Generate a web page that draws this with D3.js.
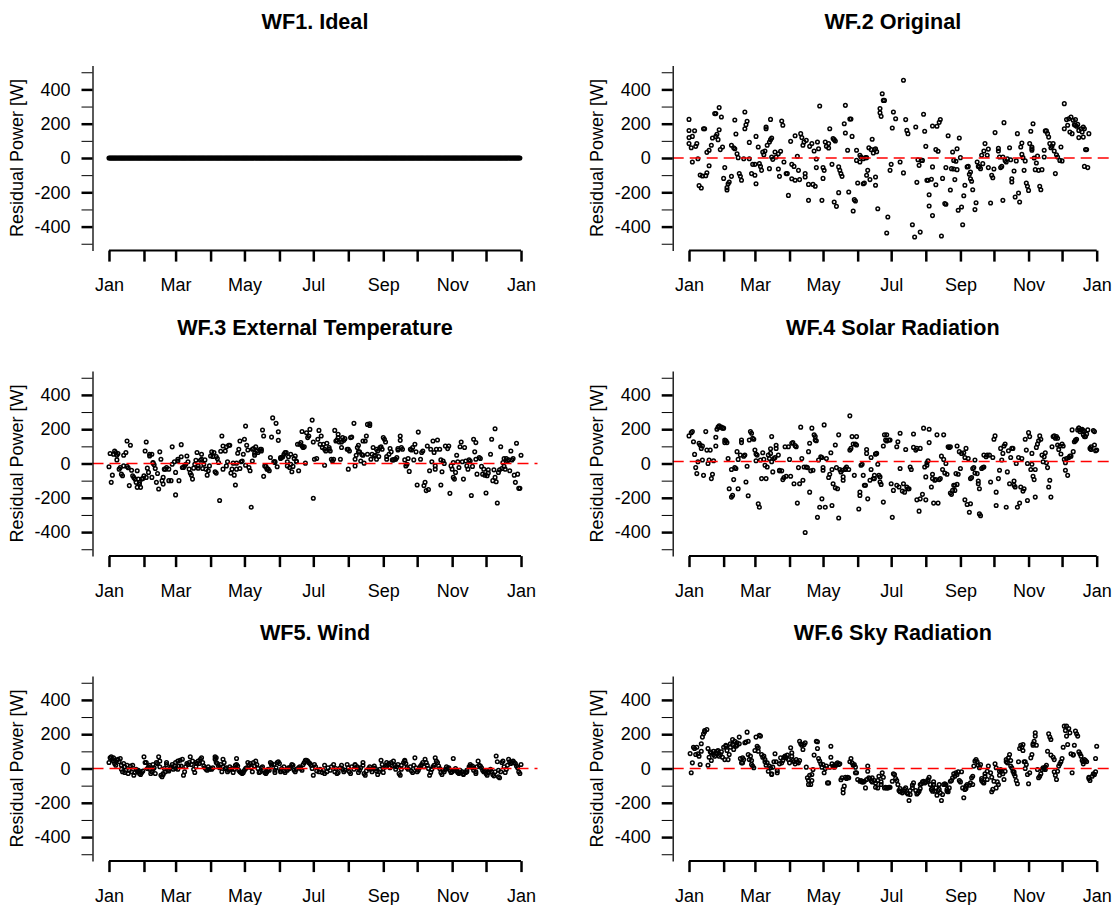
<!DOCTYPE html>
<html>
<head>
<meta charset="utf-8">
<script src="https://cdn.jsdelivr.net/npm/d3@7"></script>
<style>
  html, body { margin: 0; padding: 0; background: #fff; }
  svg { display: block; font-family: "Liberation Sans", Arial, Helvetica, sans-serif; }
</style>
</head>
<body>
<svg id="chart" width="1114" height="905"></svg>
<script>
// titles in reading order (left to right, top to bottom)
const titles = ["WF1. Ideal", "WF.2 Original", "WF.3 External Temperature",
                "WF.4 Solar Radiation", "WF5. Wind", "WF.6 Sky Radiation"];
const yLabel = "Residual Power [W]";
const yTickValues = [-500, -400, -300, -200, -100, 0, 100, 200, 300, 400, 500];
const yLabelled = [-400, -200, 0, 200, 400];
const monthLabels = ["Jan", "Mar", "May", "Jul", "Sep", "Nov", "Jan"];
// level of the red dashed line in each panel [W] (none on the ideal case)
const refLevels = [null, 0, 0, 12, 0, 0];

// WF1: one residual per day, all exactly zero
const wf1 = [
0,0,0,0,0,0,0,0,0,0,0,0,0,0,0,0,0,0,0,0,0,0,0,0,0,0,0,0,0,0,0,0,0,0,0,0,0,0,0,0,0,0,0,0,0,0,0,0,0,0,0,0,0,0,0,0,0,0,0,0,0,0,0,0,0,0,0,0,0,0,0,0,0,
0,0,0,0,0,0,0,0,0,0,0,0,0,0,0,0,0,0,0,0,0,0,0,0,0,0,0,0,0,0,0,0,0,0,0,0,0,0,0,0,0,0,0,0,0,0,0,0,0,0,0,0,0,0,0,0,0,0,0,0,0,0,0,0,0,0,0,0,0,0,0,0,0,
0,0,0,0,0,0,0,0,0,0,0,0,0,0,0,0,0,0,0,0,0,0,0,0,0,0,0,0,0,0,0,0,0,0,0,0,0,0,0,0,0,0,0,0,0,0,0,0,0,0,0,0,0,0,0,0,0,0,0,0,0,0,0,0,0,0,0,0,0,0,0,0,0,
0,0,0,0,0,0,0,0,0,0,0,0,0,0,0,0,0,0,0,0,0,0,0,0,0,0,0,0,0,0,0,0,0,0,0,0,0,0,0,0,0,0,0,0,0,0,0,0,0,0,0,0,0,0,0,0,0,0,0,0,0,0,0,0,0,0,0,0,0,0,0,0,0,
0,0,0,0,0,0,0,0,0,0,0,0,0,0,0,0,0,0,0,0,0,0,0,0,0,0,0,0,0,0,0,0,0,0,0,0,0,0,0,0,0,0,0,0,0,0,0,0,0,0,0,0,0,0,0,0,0,0,0,0,0,0,0,0,0,0,0,0,0,0,0,0,0
];

// the other panels: [day of year, residual W]
const wf2 = [
[0,225],[0,160],[0,84],[0,119],[2,60],[3,126],[5,159],[6,68],[7,84],[8,-4],[3,-23],[10,-99],[12,-105],[9,-161],[11,-175],[15,-103],[16,-86],[18,-45],[13,171],[14,171],[16,33],[18,45],[20,74],[21,117],[23,259],[24,259],[24,126],[25,138],[26,107],[27,165],[27,294],[29,239],[28,49],[30,64],[32,-56],[31,-119],[34,-173],[34,-187],[35,-150],[36,-140],[38,-107],[38,74],[40,60],[41,222],[42,140],[41,54],[43,25],[44,2],[45,-91],[46,-107],[47,-130],[49,-4],[50,268],[50,171],[51,194],[52,214],[54,91],[54,-4],[56,-91],[57,-37],[59,-101],[60,-150],[59,-37],[60,126],[62,64],[63,-33],[64,-49],[65,-72],[66,35],[67,19],[68,41],[69,181],[69,171],[70,74],[72,-62],[72,93],[73,107],[73,225],[74,117],[74,6],[75,-8],[77,35],[78,6],[80,25],[80,-64],[81,-107],[82,39],[83,216],[84,191],[85,-23],[87,-91],[88,-91],[89,-218],[91,97],[92,-37],[92,-121],[94,-49],[95,-130],[95,130],[97,10],[98,-72],[99,-126],[100,142],[101,119],[102,74],[103,93],[104,-91],[104,-111],[105,103],[107,-247],[107,-154],[108,68],[110,84],[111,-154],[112,41],[113,-165],[114,-6],[114,-56],[115,93],[116,54],[117,303],[119,-247],[120,-56],[120,-119],[121,-72],[122,93],[123,68],[125,58],[125,84],[126,171],[128,-37],[129,113],[130,107],[131,99],[130,-257],[132,-282],[134,-202],[134,-52],[135,-72],[136,-91],[137,-107],[139,200],[140,307],[140,146],[142,45],[143,-198],[144,227],[145,227],[146,126],[147,-309],[148,-243],[149,-251],[150,45],[150,-14],[151,-146],[153,16],[154,6],[153,-23],[156,-150],[156,-4],[158,2],[159,2],[157,-146],[159,-101],[160,-72],[161,60],[162,-126],[163,49],[164,109],[165,29],[166,49],[167,54],[167,-111],[167,-159],[168,37],[169,-296],[171,264],[171,288],[172,243],[173,375],[174,336],[175,336],[178,-344],[177,-437],[180,-72],[181,-37],[182,175],[183,268],
[185,229],[189,-23],[192,453],[192,-87],[194,224],[195,161],[196,142],[200,-389],[202,-461],[203,181],[204,-142],[205,-10],[206,-43],[207,-432],[208,-14],[209,-14],[210,255],[211,156],[212,68],[213,-130],[214,-130],[215,-214],[215,-280],[217,-124],[218,187],[218,-336],[218,-52],[221,49],[221,-156],[222,185],[223,39],[224,208],[225,224],[226,-455],[227,-119],[229,-266],[230,-270],[230,-56],[232,130],[234,-187],[235,-62],[236,35],[237,-64],[237,-14],[238,-126],[239,-19],[240,-68],[240,54],[241,-305],[242,117],[243,2],[244,-286],[245,-389],[246,-220],[247,-159],[249,-52],[250,-49],[251,-95],[252,-82],[252,-121],[253,-136],[254,-185],[256,-301],[257,-261],[258,-23],[259,-49],[260,-52],[261,-62],[262,16],[263,-33],[264,41],[265,84],[267,16],[268,-56],[268,52],[270,-262],[271,-101],[272,-115],[273,-64],[274,148],[277,56],[277,41],[278,6],[279,-56],[280,-49],[281,-247],[281,6],[282,206],[283,-14],[284,-23],[285,-4],[287,60],[288,-10],[289,-121],[289,-140],[291,-76],[292,-227],[293,-17],[294,142],[295,-204],[296,-257],[297,64],[298,87],[298,21],[299,2],[300,-72],[301,-17],[302,-146],[303,-165],[304,-189],[305,84],[306,156],[307,45],[307,64],[307,54],[308,200],[309,0],[310,-68],[311,-29],[312,12],[313,-72],[314,-165],[315,-185],[316,-68],[318,6],[318,45],[319,158],[320,158],[321,142],[322,122],[323,84],[324,60],[325,68],[326,84],[327,41],[328,-91],[329,19],[330,6],[332,-14],[333,64],[334,-17],[336,317],[336,171],[338,224],[339,191],[340,229],[341,152],[342,239],[343,142],[344,220],[345,194],[346,191],[346,224],[347,185],[348,196],[349,119],[349,161],[351,171],[352,152],[353,181],[353,122],[354,-49],[354,171],[355,49],[356,49],[357,-56],[358,142]
];

const wf3 = [
[0,-19],[2,-110],[3,-68],[1,58],[4,54],[5,73],[6,64],[7,48],[7,21],[8,58],[9,-33],[10,-23],[11,-62],[12,-71],[13,-14],[13,48],[15,64],[16,-17],[16,131],[17,-25],[18,-129],[19,106],[20,-39],[21,-71],[22,-81],[23,-91],[24,-110],[25,-139],[25,-42],[26,-91],[27,-110],[27,-120],[28,-139],[29,-91],[30,-87],[31,-71],[32,73],[33,-81],[33,125],[34,-27],[35,-52],[36,54],[36,44],[38,54],[38,-81],[39,6],[39,2],[40,-8],[41,-29],[42,-110],[43,-58],[44,-149],[45,68],[46,25],[47,-100],[48,-120],[48,-81],[49,-33],[50,-33],[51,-23],[53,-33],[53,-100],[55,-100],[56,-4],[56,97],[58,10],[59,-52],[59,-183],[61,25],[61,15],[62,-100],[64,39],[64,110],[65,-23],[66,-23],[67,-14],[68,-4],[69,44],[70,10],[71,-33],[72,-56],[73,-68],[74,-91],[75,-27],[76,-4],[77,19],[78,64],[79,-14],[79,-27],[81,19],[82,25],[82,54],[83,-29],[84,-4],[85,21],[86,-33],[87,-68],[88,-42],[89,-14],[90,44],[91,68],[92,41],[93,64],[94,-48],[95,-56],[95,41],[96,29],[97,6],[98,-216],[99,71],[100,160],[101,102],[101,-33],[103,73],[104,97],[104,-14],[105,10],[106,106],[107,106],[108,-56],[109,-33],[110,2],[111,-68],[112,-125],[113,-33],[113,2],[114,60],[115,83],[116,131],[116,-29],[117,10],[118,14],[119,54],[120,141],[121,-10],[121,218],[122,106],[123,79],[124,-23],[125,-42],[126,-255],[127,15],[127,83],[128,87],[129,48],[129,60],[130,98],[131,73],[132,64],[134,83],[135,83],[135,73],[136,195],[137,160],[137,-75],[138,-14],[139,-17],[140,-29],[140,-33],[141,-33],[142,-42],[143,35],[144,154],[145,266],[146,10],[147,12],[147,6],[148,234],[149,-19],[150,185],[150,135],[152,29],[152,35],[153,35],[154,39],[155,54],[156,64],[157,64],[158,-14],[158,10],[159,39],[160,-23],[161,54],[161,-4],[162,-48],[163,-17],[164,29],[165,44],[166,10],[166,14],[167,112],[168,-42],[169,112],[170,122],[171,187],[171,102],[172,93],[173,98],[174,2],[175,179],[176,151],[177,160],[178,199],[180,253],[181,125],[181,-203],[182,25],
[184,29],[186,193],[188,160],[185,141],[187,112],[189,93],[190,112],[191,-10],[191,83],[192,73],[193,118],[195,83],[195,93],[196,73],[197,25],[198,15],[199,25],[200,193],[201,131],[202,137],[203,151],[203,170],[204,125],[205,25],[206,93],[206,125],[207,151],[208,135],[209,145],[211,83],[212,-33],[212,83],[213,73],[214,151],[215,154],[217,234],[218,-14],[218,25],[219,48],[220,93],[221,106],[221,68],[222,68],[223,15],[224,52],[225,131],[225,48],[226,2],[227,131],[228,160],[229,54],[229,228],[231,232],[231,222],[232,25],[233,54],[234,93],[235,44],[236,48],[237,25],[237,83],[238,73],[239,41],[240,93],[241,97],[242,83],[243,151],[244,141],[245,125],[246,41],[246,25],[248,54],[249,87],[250,68],[251,21],[252,21],[253,25],[254,25],[255,35],[256,87],[256,79],[258,160],[258,135],[259,93],[260,83],[262,21],[263,-14],[264,-4],[265,29],[266,-46],[267,83],[268,79],[269,93],[270,21],[271,112],[272,68],[273,-125],[274,183],[276,25],[277,64],[278,73],[279,-129],[280,-110],[281,-158],[282,102],[283,-152],[284,-42],[285,83],[286,10],[287,131],[288,64],[289,-33],[289,-14],[290,83],[291,137],[293,83],[294,21],[294,-125],[295,-48],[296,15],[297,0],[298,102],[300,87],[301,102],[302,-174],[303,-14],[304,-33],[305,6],[305,-81],[306,-91],[307,-52],[308,48],[309,10],[310,-23],[311,98],[312,125],[313,10],[314,-91],[315,93],[316,15],[317,-14],[318,-33],[319,21],[320,15],[321,-187],[322,-17],[323,141],[324,68],[325,122],[325,25],[326,-62],[328,35],[329,29],[330,-17],[331,-62],[332,-33],[333,-68],[334,-172],[335,-71],[336,-37],[336,-56],[338,54],[339,141],[340,-100],[341,-37],[342,203],[342,-81],[343,-106],[344,-230],[345,-52],[346,-37],[347,98],[348,-29],[349,6],[350,29],[350,-17],[351,-33],[352,29],[353,15],[354,21],[355,-42],[356,73],[357,21],[358,29],[359,-68],[360,-110],[361,118],[362,-62],[363,-145],[364,-145],[365,48]
];

const wf4 = [
[0,161],[2,180],[3,186],[4,127],[5,53],[6,-24],[7,-59],[8,10],[9,118],[10,108],[11,88],[12,102],[12,20],[13,-69],[15,186],[16,78],[17,0],[18,20],[19,78],[20,-88],[21,-63],[22,16],[24,102],[24,153],[25,200],[26,212],[27,220],[27,212],[29,212],[30,206],[31,206],[32,137],[32,122],[33,133],[34,122],[35,29],[36,-147],[38,-35],[38,-196],[39,-186],[40,-94],[41,-24],[42,-29],[43,69],[44,-147],[44,24],[46,49],[47,137],[47,122],[49,43],[50,49],[51,-108],[52,-16],[53,-188],[54,137],[55,186],[56,176],[57,147],[58,141],[59,78],[60,55],[60,16],[61,49],[62,-235],[63,-255],[64,20],[65,-88],[66,63],[67,24],[68,-10],[69,-88],[70,-20],[71,49],[72,29],[73,59],[73,86],[74,157],[74,10],[75,-49],[76,29],[77,35],[78,88],[78,106],[80,49],[81,-43],[81,-39],[83,-43],[84,-94],[85,-82],[86,98],[87,-74],[89,98],[90,24],[91,-74],[92,118],[93,122],[94,-118],[95,104],[96,98],[97,-231],[98,-24],[99,-118],[100,212],[101,29],[102,-98],[103,-20],[104,-402],[105,-20],[106,-24],[107,69],[108,118],[108,-167],[109,-43],[110,206],[111,-39],[112,167],[113,157],[113,137],[114,133],[115,-314],[116,20],[117,-255],[118,39],[119,-206],[119,35],[120,-24],[120,-39],[121,225],[122,-255],[123,29],[125,-82],[126,-63],[127,63],[128,-245],[128,-35],[129,-118],[131,-141],[131,108],[132,-24],[133,-147],[134,167],[134,-318],[135,-35],[136,-49],[137,-39],[138,-78],[138,-98],[140,-35],[140,-29],[141,-20],[143,-35],[144,278],[144,78],[145,88],[146,157],[147,114],[148,-69],[149,114],[150,157],[150,108],[152,-265],[153,-167],[153,-186],[154,-10],[155,-4],[156,-69],[157,-127],[158,-127],[159,82],[159,59],[160,-206],[162,-98],[163,-35],[163,35],[165,-88],[166,-88],[166,-69],[167,55],[167,55],[168,59],[169,-4],[170,-69],[171,-78],[171,-108],[172,-122],[174,102],[174,-225],[175,167],[176,137],[177,167],[177,131],[179,137],[180,137],[181,-118],[182,-314],[183,-157],
[186,-127],[186,98],[187,127],[188,-137],[189,-29],[189,176],[191,-161],[192,-118],[193,-167],[194,82],[195,-137],[196,-147],[197,-147],[198,-20],[199,-35],[201,172],[201,94],[203,78],[204,-212],[204,88],[206,-278],[207,88],[207,-206],[209,-180],[210,206],[211,-20],[212,-78],[212,-212],[213,4],[213,-10],[214,16],[215,200],[215,122],[217,-137],[218,-63],[218,-88],[219,-231],[220,-98],[221,-94],[222,167],[223,-231],[224,-94],[225,-88],[226,43],[227,-35],[228,167],[228,24],[229,-55],[230,0],[231,-63],[232,98],[233,94],[234,98],[234,-172],[235,-180],[236,-157],[237,-127],[238,-127],[238,-157],[239,-59],[240,-122],[240,102],[241,-63],[242,69],[243,-29],[244,59],[246,63],[247,-212],[247,35],[248,88],[249,-239],[250,29],[251,-284],[252,-235],[252,-88],[253,-82],[254,-29],[255,-24],[256,-55],[256,20],[258,-59],[259,-102],[259,-118],[260,-147],[260,-294],[261,-304],[262,-29],[263,-24],[264,-20],[264,49],[266,39],[267,49],[269,49],[270,-108],[272,35],[273,141],[274,161],[275,-167],[275,-245],[277,-88],[278,-39],[279,88],[280,20],[281,59],[282,102],[283,114],[284,-255],[285,-49],[286,74],[287,-118],[288,35],[289,88],[290,88],[291,-127],[291,-102],[292,-137],[293,0],[294,-255],[295,35],[296,-231],[297,-137],[298,29],[299,-161],[300,-147],[301,141],[302,78],[303,-216],[303,0],[304,180],[305,157],[306,-35],[307,59],[307,-4],[308,-74],[309,-94],[310,-196],[310,-35],[311,94],[312,114],[313,133],[314,161],[315,141],[316,49],[317,10],[318,39],[319,63],[320,4],[321,-24],[322,-137],[323,-98],[324,-196],[325,98],[326,157],[327,161],[328,147],[329,157],[330,147],[330,108],[331,82],[332,102],[333,55],[334,114],[335,102],[336,24],[337,4],[337,-39],[338,29],[339,-69],[340,35],[341,43],[342,43],[343,196],[344,69],[345,127],[346,137],[346,133],[347,141],[348,196],[349,206],[349,206],[350,186],[351,196],[352,200],[353,167],[353,192],[354,186],[354,157],[355,157],[356,172],[357,196],[359,88],[360,98],[360,82],[362,192],[363,186],[363,108],[364,74],[365,78]
];

const wf5 = [
[0,35],[1,62],[2,68],[3,54],[4,43],[4,62],[5,29],[6,19],[7,48],[8,54],[9,39],[10,58],[11,19],[11,-4],[12,-19],[13,29],[14,10],[14,-23],[15,-10],[16,19],[17,-29],[18,-10],[19,15],[20,-19],[21,19],[22,-39],[23,-23],[24,-4],[25,-15],[26,-10],[27,-29],[27,-19],[28,-35],[29,-23],[30,-15],[31,68],[32,35],[33,35],[34,0],[35,10],[36,19],[36,-4],[37,-29],[38,-19],[39,-4],[39,23],[40,4],[41,-29],[42,35],[43,29],[44,68],[45,43],[45,10],[46,-39],[47,-48],[48,-29],[48,-35],[49,0],[50,-19],[51,35],[51,23],[52,-10],[53,-15],[54,0],[55,10],[56,23],[57,-4],[58,15],[59,35],[59,0],[61,43],[61,-4],[62,15],[63,48],[64,15],[65,54],[66,-39],[67,-19],[68,10],[69,29],[70,23],[71,35],[72,68],[73,23],[74,43],[75,-4],[76,-23],[77,10],[77,35],[78,29],[79,43],[80,29],[81,54],[82,62],[83,35],[84,15],[85,4],[86,-4],[87,-10],[88,10],[89,-4],[90,0],[91,-4],[92,4],[94,54],[94,68],[95,62],[95,35],[96,29],[97,15],[98,4],[99,23],[100,-19],[101,54],[101,10],[102,35],[103,0],[104,4],[105,-19],[106,-10],[107,-4],[107,10],[109,0],[110,-23],[111,-4],[112,19],[113,58],[113,23],[114,15],[115,-10],[116,-19],[117,-23],[118,-29],[119,-23],[120,-10],[121,0],[122,4],[123,35],[124,19],[125,29],[126,4],[127,-19],[128,35],[129,15],[130,43],[131,23],[132,0],[133,-23],[134,-19],[135,4],[136,10],[137,-10],[138,-23],[139,-29],[140,-19],[141,-4],[142,-10],[143,35],[144,19],[144,29],[146,23],[147,-23],[147,-10],[148,4],[149,35],[150,39],[151,29],[152,-10],[152,-19],[153,0],[155,10],[155,-15],[156,-23],[158,-10],[158,-4],[159,4],[160,0],[161,10],[162,23],[163,19],[164,-10],[165,-19],[166,-4],[168,4],[169,10],[170,0],[171,-10],[172,23],[173,35],[174,48],[175,48],[176,43],[177,35],[178,29],[179,19],[180,0],[181,-39],[182,23],
[183,10],[184,-15],[186,-19],[187,-4],[189,-23],[190,-10],[191,19],[191,-29],[193,-19],[194,4],[196,-10],[197,10],[199,23],[200,-19],[201,0],[202,-29],[203,-23],[205,4],[206,19],[207,-4],[208,-19],[209,-10],[211,23],[212,4],[213,-19],[214,-29],[215,10],[217,-4],[218,19],[218,23],[220,10],[221,0],[221,-23],[222,-10],[223,4],[225,35],[225,19],[226,-29],[227,-39],[228,-15],[230,0],[231,10],[232,-4],[233,-19],[234,4],[235,15],[236,0],[237,-15],[238,-35],[239,-19],[240,-4],[241,48],[242,23],[243,0],[243,-23],[245,10],[246,19],[246,35],[248,29],[249,4],[250,35],[251,15],[252,43],[253,19],[254,-4],[255,10],[256,23],[257,-29],[258,-39],[259,-4],[259,19],[261,35],[262,48],[262,43],[263,29],[264,4],[265,-4],[267,10],[268,-15],[269,-23],[270,19],[271,62],[272,4],[273,-19],[274,-10],[275,4],[276,15],[277,23],[278,35],[279,10],[280,54],[281,35],[282,19],[283,0],[284,-39],[285,-23],[286,-4],[287,10],[288,19],[289,62],[290,43],[291,35],[292,15],[293,0],[294,-23],[295,-35],[296,-10],[297,-19],[298,-4],[299,10],[300,0],[301,4],[302,-10],[303,-23],[304,-19],[305,58],[306,-10],[307,0],[308,-15],[309,-23],[310,-29],[311,-23],[311,-10],[313,-19],[314,-29],[314,-35],[316,-23],[317,-10],[317,-19],[319,10],[320,15],[320,23],[322,15],[322,4],[323,-10],[325,-29],[325,-19],[326,10],[327,43],[328,19],[329,15],[330,4],[331,-10],[332,-19],[333,-15],[334,-29],[335,-39],[336,-23],[337,-10],[338,-4],[339,-19],[340,-35],[341,-43],[342,-19],[343,73],[344,39],[345,-10],[345,-48],[346,-54],[347,-19],[348,35],[349,43],[350,10],[351,-23],[352,-4],[353,19],[354,54],[355,39],[356,29],[357,35],[358,43],[359,35],[360,29],[361,15],[362,4],[363,-19],[364,-29],[365,23]
];

const wf6 = [
[2,-25],[1,87],[3,33],[4,124],[5,117],[6,82],[7,124],[8,86],[9,72],[10,23],[11,101],[11,144],[12,183],[13,202],[14,214],[14,222],[16,227],[17,117],[17,19],[18,66],[19,97],[20,47],[20,91],[22,101],[22,82],[23,72],[24,91],[25,101],[26,105],[27,72],[28,82],[29,97],[30,66],[31,124],[32,52],[33,130],[33,136],[34,105],[35,52],[36,82],[37,124],[37,144],[39,169],[39,140],[40,111],[41,159],[42,130],[43,136],[43,150],[45,183],[45,144],[46,58],[47,33],[48,62],[48,33],[49,52],[50,150],[51,154],[52,212],[53,159],[53,82],[54,52],[55,72],[56,47],[56,23],[57,14],[58,4],[59,105],[60,183],[61,130],[62,101],[62,121],[63,194],[64,189],[65,82],[66,66],[67,72],[68,39],[68,52],[69,19],[70,33],[71,-16],[72,14],[73,4],[74,-31],[74,-35],[75,8],[76,39],[77,86],[78,39],[79,-25],[79,-12],[81,27],[82,62],[83,33],[84,47],[85,66],[86,72],[87,62],[88,78],[89,52],[90,33],[91,121],[92,91],[92,72],[93,47],[94,39],[95,27],[96,52],[97,39],[98,33],[99,47],[99,159],[100,144],[101,136],[102,111],[103,140],[104,150],[105,8],[106,-54],[107,-93],[107,-70],[108,-39],[109,-93],[110,-70],[110,-35],[111,-6],[112,78],[114,159],[115,156],[115,117],[116,58],[117,43],[118,27],[119,8],[120,23],[121,-25],[122,0],[123,14],[124,-84],[125,-84],[126,8],[127,130],[127,66],[128,27],[129,14],[130,8],[131,14],[132,27],[133,33],[134,23],[135,27],[136,-66],[137,-54],[138,-122],[138,-142],[139,-103],[140,-51],[141,-58],[142,-51],[143,-54],[144,39],[145,58],[146,33],[147,19],[148,23],[149,-25],[149,8],[150,-25],[151,-64],[153,-74],[154,-70],[155,-78],[156,-78],[157,-74],[158,-113],[159,-64],[160,14],[160,-16],[161,-54],[162,-58],[163,-70],[164,-78],[164,-54],[166,-70],[167,-84],[167,-109],[169,-113],[169,-70],[170,-45],[172,-78],[172,-93],[173,-25],[174,-51],[175,-113],[176,-109],[177,-113],[178,-113],[179,-109],[180,-109],[182,-74],[183,-31],
[184,-35],[185,-58],[186,-70],[187,-93],[188,-128],[189,-136],[189,-117],[191,-142],[192,-132],[193,-122],[194,-113],[195,-142],[196,-148],[197,-187],[198,-152],[198,-128],[200,-113],[200,-97],[201,-84],[203,-128],[204,-148],[205,-142],[206,-132],[207,-117],[207,-93],[208,-89],[209,-78],[210,-74],[211,-84],[212,-78],[214,-74],[214,-64],[215,-51],[216,-93],[217,-122],[218,-132],[218,-113],[219,-93],[219,-78],[220,-132],[221,-113],[222,-156],[223,-128],[224,-122],[224,-93],[225,-142],[226,-187],[227,-152],[228,-93],[229,-89],[230,-93],[231,-132],[231,-122],[232,-136],[233,-113],[234,-74],[235,-70],[236,-54],[237,-31],[238,-45],[239,-25],[240,-35],[241,-19],[242,-70],[243,-78],[244,-19],[245,-113],[246,-171],[247,-122],[248,-103],[248,-117],[249,-93],[251,-97],[252,-84],[253,-54],[254,-45],[254,-93],[255,14],[256,43],[257,52],[258,39],[259,19],[260,4],[261,23],[262,-70],[262,-58],[263,-78],[264,-84],[265,-31],[265,-45],[267,-64],[267,-16],[268,14],[270,-25],[271,-51],[271,-136],[272,-122],[273,-74],[274,27],[275,4],[275,-113],[276,-78],[277,-93],[278,-16],[278,-39],[279,-6],[280,-16],[281,-31],[282,-64],[283,-16],[284,52],[284,39],[285,33],[286,62],[287,82],[288,14],[288,47],[289,4],[290,-16],[291,-31],[291,-19],[292,-45],[293,-70],[294,-89],[295,39],[296,117],[297,136],[298,124],[299,140],[299,105],[300,39],[301,39],[301,0],[302,23],[303,-35],[304,-89],[305,-25],[306,62],[307,82],[308,144],[308,136],[309,159],[310,208],[310,189],[311,136],[312,-6],[313,-54],[314,-45],[315,-31],[316,-6],[317,4],[318,0],[319,-6],[319,8],[320,19],[321,101],[322,202],[323,183],[324,169],[324,78],[326,66],[327,52],[327,-19],[328,-39],[329,-64],[330,-16],[331,14],[332,27],[333,39],[334,58],[335,124],[336,247],[337,222],[338,247],[338,189],[339,140],[340,233],[341,208],[342,86],[343,-25],[344,78],[344,82],[345,136],[346,218],[347,202],[348,189],[349,97],[350,86],[351,72],[352,47],[353,27],[353,39],[354,52],[355,47],[356,39],[358,-51],[358,-58],[359,-70],[361,-45],[362,-31],[363,-35],[364,-19],[364,58],[365,130]
];

const panelData = [wf1.map((v, d) => [d, v]), wf2, wf3, wf4, wf5, wf6];

// layout of the 3 x 2 grid
const colLeft = [92.5, 672.7];
const colWidth = [445, 440.3];
const rowTop = [65.4, 370.9, 675.9];
const plotH = 185.2;

const yearStart = new Date(Date.UTC(2015, 0, 1));
const yearEnd = new Date(Date.UTC(2016, 0, 1));
const padMs = 0.04 * 365 * 864e5; // R's 4% axis extension
const months = d3.utcMonth.range(yearStart, d3.utcDay.offset(yearEnd, 1));
const dayDate = d => new Date(yearStart.getTime() + d * 864e5);

const svg = d3.select("#chart");

const drawPanel = (i) => {
    const col = i % 2, row = Math.floor(i / 2);
    const left = colLeft[col], top = rowTop[row], plotW = colWidth[col];

    const x = d3.scaleUtc()
        .domain([new Date(yearStart.getTime() - padMs), new Date(yearEnd.getTime() + padMs)])
        .range([left, left + plotW]);
    const y = d3.scaleLinear().domain([-540, 540]).range([top + plotH, top]);

    const g = svg.append("g").attr("class", "panel");

    // points
    g.append("g").selectAll("circle")
        .data(panelData[i])
        .join("circle")
        .attr("cx", d => x(dayDate(d[0])))
        .attr("cy", d => y(d[1]))
        .attr("r", 1.8)
        .attr("fill", "none")
        .attr("stroke", "#000")
        .attr("stroke-width", 1.5);

    // red dashed reference line
    if (refLevels[i] !== null) {
        g.append("line")
            .attr("x1", left).attr("x2", left + plotW)
            .attr("y1", y(refLevels[i])).attr("y2", y(refLevels[i]))
            .attr("stroke", "#ff0000")
            .attr("stroke-width", 1.5)
            .attr("stroke-dasharray", "11,6");
    }

    // x axis
    const xAxis = d3.axisBottom(x)
        .tickValues(months)
        .tickSize(11)
        .tickPadding(16.7)
        .tickFormat((d, k) => k % 2 ? "" : monthLabels[k / 2]);
    const xa = g.append("g")
        .attr("transform", `translate(0,${top + plotH})`)
        .call(xAxis)
        .attr("font-size", null).attr("font-family", null);
    xa.select(".domain").remove();
    xa.append("line")
        .attr("x1", x(months[0])).attr("x2", x(months[months.length - 1]))
        .attr("stroke", "#000").attr("stroke-width", 2);
    xa.selectAll(".tick line").attr("stroke-width", 2.5);
    xa.selectAll(".tick text").attr("font-size", 18).attr("fill", "#000");

    // y axis
    const yAxis = d3.axisLeft(y)
        .tickValues(yTickValues)
        .tickSize(11)
        .tickSizeOuter(0)
        .tickPadding(11)
        .tickFormat(d => yLabelled.includes(d) ? String(d) : "");
    const ya = g.append("g")
        .attr("transform", `translate(${left},0)`)
        .call(yAxis)
        .attr("font-size", null).attr("font-family", null);
    ya.select(".domain").attr("stroke-width", 1.3);
    ya.selectAll(".tick line").attr("stroke-width", d => yLabelled.includes(d) ? 2.5 : 1);
    ya.selectAll(".tick text").attr("font-size", 18).attr("fill", "#000");

    // y label
    g.append("text")
        .attr("transform", `translate(${left - 76},${top + plotH / 2}) rotate(-90)`)
        .attr("text-anchor", "middle")
        .attr("dy", "0.35em")
        .attr("font-size", 18)
        .text(yLabel);

    // title
    g.append("text")
        .attr("x", left + plotW / 2)
        .attr("y", top - 36)
        .attr("text-anchor", "middle")
        .attr("font-size", 21.6)
        .attr("font-weight", "bold")
        .text(titles[i]);
};

titles.forEach((t, i) => drawPanel(i));
</script>
</body>
</html>
